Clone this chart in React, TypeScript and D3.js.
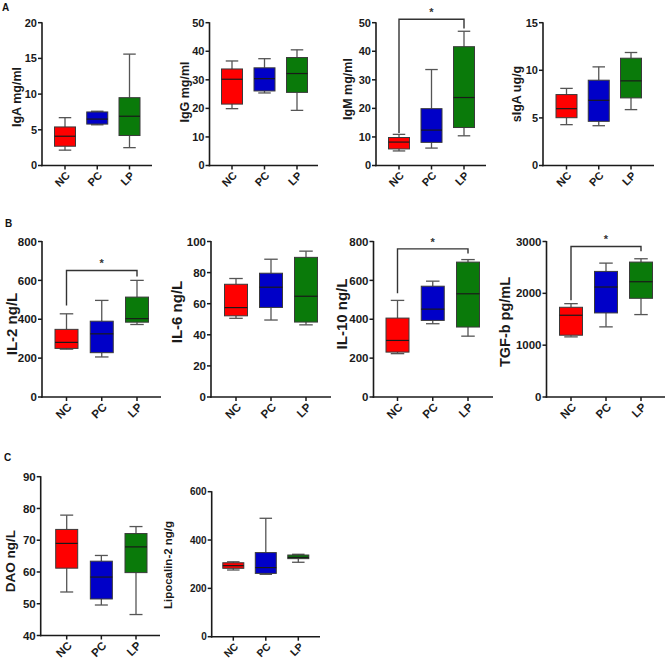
import React from "react";
import * as d3 from "d3";

// groups
const groups = ["NC", "PC", "LP"];
const groupColors = ["#ff0000", "#0000c8", "#0a7a0a"];

// five-number summaries per group: [min, q1, median, q3, max]
const igA = [[2.15, 2.7, 4.1, 5.4, 6.7], [5.7, 5.8, 6.5, 7.5, 7.6], [2.5, 4.2, 6.9, 9.5, 15.6]];
const igG = [[19.9, 21.5, 30.2, 33.8, 36.6], [25.4, 26.1, 30.4, 34.2, 37.4], [19.3, 25.6, 32.2, 37.8, 40.5]];
const igM = [[5.1, 5.8, 8.2, 9.8, 10.9], [6.1, 8.1, 12.4, 19.9, 33.6], [10.4, 13.3, 23.8, 41.6, 47.0]];
const sIgA = [[4.29, 5.02, 5.97, 7.45, 8.1], [4.18, 4.64, 6.85, 8.96, 10.36], [5.87, 7.1, 8.89, 11.27, 11.87]];
const il2 = [[246, 250, 281, 348, 428], [206, 228, 325, 390, 497], [373, 385, 403, 514, 600]];
const il6 = [[50.6, 52.2, 57.5, 72.5, 76.2], [49.5, 57.6, 70.6, 79.6, 88.6], [46.4, 48.2, 64.8, 89.8, 93.8]];
const il10 = [[223, 231, 291, 406, 497], [377, 394, 452, 570, 596], [313, 360, 531, 694, 707]];
const tgfb = [[1160, 1192, 1577, 1731, 1801], [1353, 1622, 2122, 2423, 2583], [1590, 1904, 2224, 2603, 2667]];
const dao = [[53.7, 61.2, 69.0, 73.4, 77.9], [49.6, 51.5, 58.4, 63.4, 65.2], [46.6, 59.8, 67.9, 72.1, 74.3]];
const lcn2 = [[276, 283, 294, 306, 310], [258, 262, 286, 348, 490], [308, 323, 328, 338, 341]];

// y-axis tick labels
const ticksIgA = [0, 5, 10, 15, 20];
const ticksIgG = [0, 10, 20, 30, 40, 50];
const ticksIgM = [0, 10, 20, 30, 40, 50];
const ticksSIgA = [0, 5, 10, 15];
const ticksIL2 = [0, 200, 400, 600, 800];
const ticksIL6 = [0, 20, 40, 60, 80, 100];
const ticksIL10 = [0, 200, 400, 600, 800];
const ticksTGF = [0, 1000, 2000, 3000];
const ticksDAO = [40, 50, 60, 70, 80, 90];
const ticksLCN = [0, 200, 400, 600];

// significance brackets: [bar value, left leg end value, right leg end value]
const sigIgM = [51.2, 11.4, 48.0];
const sigIL2 = [651, 471, 620];
const sigIL10 = [762, 534, 738];
const sigTGF = [2904, 1865, 2813];

type Panel = {
  title: string;
  data: number[][];
  ticks: number[];
  sig?: number[];
  ax: number; xEnd: number; c0: number; c2: number;
  yTop: number; yBot: number;
  titleX: number; titleY: number; titleSize: number;
  tickSize: number; catSize: number; boxW: number;
};

const panels: Panel[] = [
  { title: "IgA mg/ml", data: igA, ticks: ticksIgA, ax: 42, xEnd: 152, c0: 65, c2: 129.5, yTop: 22.7, yBot: 165.5, titleX: 16.5, titleY: 97, titleSize: 12.5, tickSize: 11, catSize: 11, boxW: 21 },
  { title: "IgG mg/ml", data: igG, ticks: ticksIgG, ax: 209.5, xEnd: 318, c0: 232, c2: 297, yTop: 22.7, yBot: 165.5, titleX: 185, titleY: 92, titleSize: 12.5, tickSize: 11, catSize: 11, boxW: 21 },
  { title: "IgM mg/ml", data: igM, ticks: ticksIgM, sig: sigIgM, ax: 376, xEnd: 486, c0: 399, c2: 464, yTop: 22.7, yBot: 165.5, titleX: 348, titleY: 89, titleSize: 12.5, tickSize: 11, catSize: 11, boxW: 21 },
  { title: "sIgA ug/g", data: sIgA, ticks: ticksSIgA, ax: 543, xEnd: 654, c0: 566.5, c2: 631, yTop: 22.7, yBot: 165.5, titleX: 517, titleY: 94, titleSize: 12.5, tickSize: 11, catSize: 11, boxW: 21 },
  { title: "IL-2 ng/L", data: il2, ticks: ticksIL2, sig: sigIL2, ax: 42, xEnd: 161, c0: 66.5, c2: 137, yTop: 241.5, yBot: 397, titleX: 12, titleY: 324, titleSize: 15, tickSize: 11.5, catSize: 11.5, boxW: 23 },
  { title: "IL-6 ng/L", data: il6, ticks: ticksIL6, ax: 211, xEnd: 331, c0: 236, c2: 306, yTop: 241.5, yBot: 397, titleX: 177, titleY: 312, titleSize: 15, tickSize: 11.5, catSize: 11.5, boxW: 23 },
  { title: "IL-10 ng/L", data: il10, ticks: ticksIL10, sig: sigIL10, ax: 373.5, xEnd: 493, c0: 397.5, c2: 468, yTop: 241.5, yBot: 397, titleX: 342, titleY: 314, titleSize: 15, tickSize: 11.5, catSize: 11.5, boxW: 23 },
  { title: "TGF-b pg/mL", data: tgfb, ticks: ticksTGF, sig: sigTGF, ax: 546.5, xEnd: 665, c0: 571, c2: 641, yTop: 241.5, yBot: 397, titleX: 505, titleY: 322, titleSize: 14.5, tickSize: 11.5, catSize: 11.5, boxW: 23 },
  { title: "DAO ng/L", data: dao, ticks: ticksDAO, ax: 40.7, xEnd: 160, c0: 66.7, c2: 136, yTop: 476.7, yBot: 635.5, titleX: 10.5, titleY: 561, titleSize: 13.5, tickSize: 11.5, catSize: 11.5, boxW: 22 },
  { title: "Lipocalin-2 ng/g", data: lcn2, ticks: ticksLCN, ax: 211.7, xEnd: 320, c0: 233.3, c2: 298.3, yTop: 491.7, yBot: 636.7, titleX: 168, titleY: 565, titleSize: 11.5, tickSize: 10, catSize: 10.5, boxW: 21 },
];

const letters = [
  { t: "A", x: 2, y: 11 },
  { t: "B", x: 5, y: 227 },
  { t: "C", x: 4, y: 461 },
];

const FONT = "Arial, 'Liberation Sans', Helvetica, sans-serif";
const AXIS = "#1a1a1a";
const WHISK = "#555";

function PanelView({ p }: { p: Panel }) {
  const dom = d3.extent(p.ticks) as [number, number];
  const y = d3.scaleLinear().domain(dom).range([p.yBot, p.yTop]);
  const x = d3.scalePoint<string>().domain(groups).range([p.c0, p.c2]);
  const half = p.boxW / 2;
  const cap = p.boxW / 4 + 1;
  return (
    <g>
      {p.data.map((s, i) => {
        const cx = x(groups[i])!;
        const [mn, q1, md, q3, mx] = s;
        return (
          <g key={i}>
            <line x1={cx} x2={cx} y1={y(mx)} y2={y(q3)} stroke={WHISK} strokeWidth={1.3} />
            <line x1={cx} x2={cx} y1={y(q1)} y2={y(mn)} stroke={WHISK} strokeWidth={1.3} />
            <line x1={cx - cap} x2={cx + cap} y1={y(mx)} y2={y(mx)} stroke={WHISK} strokeWidth={1.3} />
            <line x1={cx - cap} x2={cx + cap} y1={y(mn)} y2={y(mn)} stroke={WHISK} strokeWidth={1.3} />
            <rect x={cx - half} y={y(q3)} width={p.boxW} height={Math.max(1, y(q1) - y(q3))} fill={groupColors[i]} stroke="#3a3a3a" strokeWidth={1} />
            <line x1={cx - half} x2={cx + half} y1={y(md)} y2={y(md)} stroke="#1a1a1a" strokeWidth={1.2} />
          </g>
        );
      })}
      <line x1={p.ax} x2={p.ax} y1={p.yTop - 0.5} y2={p.yBot + 0.8} stroke={AXIS} strokeWidth={1.6} />
      {p.ticks.map((t) => (
        <g key={t}>
          <line x1={p.ax - 4} x2={p.ax} y1={y(t)} y2={y(t)} stroke={AXIS} strokeWidth={1.5} />
          <text x={p.ax - 5} y={y(t)} dy="0.36em" textAnchor="end" fontSize={p.tickSize} fontWeight="bold" fill="#1a1a1a" fontFamily={FONT}>
            {t}
          </text>
        </g>
      ))}
      <line x1={p.ax - 0.8} x2={p.xEnd} y1={p.yBot} y2={p.yBot} stroke={AXIS} strokeWidth={1.6} />
      {groups.map((g) => (
        <g key={g}>
          <line x1={x(g)!} x2={x(g)!} y1={p.yBot} y2={p.yBot + 4} stroke={AXIS} strokeWidth={1.5} />
          <text
            transform={`translate(${x(g)! + 3},${p.yBot + 8}) rotate(-45)`}
            dy="0.35em"
            textAnchor="end"
            fontSize={p.catSize}
            fontWeight="bold"
            fill="#1a1a1a"
            fontFamily={FONT}
          >
            {g}
          </text>
        </g>
      ))}
      <text
        transform={`translate(${p.titleX},${p.titleY}) rotate(-90)`}
        dy="0.35em"
        textAnchor="middle"
        fontSize={p.titleSize}
        fontWeight={700}
        fill="#1a1a1a"
        fontFamily={FONT}
      >
        {p.title}
      </text>
      {p.sig && (
        <g>
          <path
            d={`M${x("NC")},${y(p.sig[1])}V${y(p.sig[0])}H${x("LP")}V${y(p.sig[2])}`}
            fill="none"
            stroke="#333"
            strokeWidth={1.4}
          />
          <text x={x("PC")} y={y(p.sig[0]) - 3} textAnchor="middle" fontSize={11} fontWeight="bold" fill="#333" fontFamily={FONT}>
            *
          </text>
        </g>
      )}
    </g>
  );
}

export default function App() {
  return (
    <svg width={666} height={663} style={{ position: "absolute", left: 0, top: 0, background: "#fff" }}>
      <rect width={666} height={663} fill="#fff" />
      {letters.map((l) => (
        <text key={l.t} x={l.x} y={l.y} fontSize={10} fontWeight="bold" fill="#111" fontFamily={FONT}>
          {l.t}
        </text>
      ))}
      {panels.map((p) => (
        <PanelView key={p.title} p={p} />
      ))}
    </svg>
  );
}
